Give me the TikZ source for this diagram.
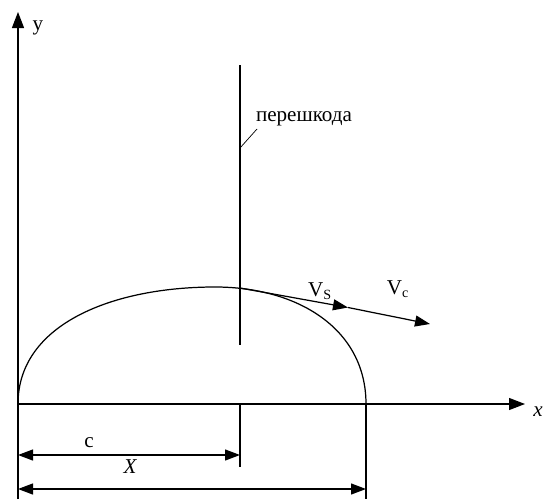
\documentclass[tikz,border=0pt]{standalone}
\usepackage{fontspec}
\setmainfont{Liberation Serif}
\usetikzlibrary{arrows.meta}
\tikzset{
  every picture/.style={line width=0.7pt, font=\fontsize{12}{14}\selectfont},
  axis/.style={-{Triangle[length=3.2mm, width=2.4mm]}},
  vel/.style={-{Triangle[length=3mm, width=2.2mm]}},
  dim/.style={{Triangle[length=3mm, width=2.2mm]}-{Triangle[length=3mm, width=2.2mm]}},
  lbl/.style={inner sep=1pt},
}

\begin{document}
\begin{tikzpicture}
  \useasboundingbox (-0.36,-1.9) rectangle (10.58,8.08);
  % axes
  \coordinate (O) at (0,0);
  \coordinate (ybot) at (0,-1.9);
  \coordinate (ytop) at (0,7.84);
  \coordinate (xend) at (10.14,0);
  \draw[axis] (ybot) -- (ytop);
  \draw[axis] (O) -- (xend);
  \node[lbl] (ylab) at (0.4,7.52) {y};
  \node[lbl] (xlab) at (10.4,-0.16) {\itshape x};
  % obstacle
  \coordinate (obtop) at (4.44,6.78);
  \coordinate (obbot) at (4.44,1.18);
  \draw (obtop) -- (obbot);
  \node[lbl] (oblab) at (5.72,5.7) {перешкода};
  \coordinate (ldA) at (4.44,5.12);
  \coordinate (ldB) at (4.78,5.5);
  \draw[line width=0.4pt] (ldA) -- (ldB);
  % trajectory
  \coordinate (top) at (3.94,2.34);
  \coordinate (land) at (6.96,0);
  \draw (O) .. controls (0,1.6) and (1.9,2.34) .. (top)
            .. controls (5.6,2.34) and (6.96,1.5) .. (land);
  % velocities
  \coordinate (hit) at (4.44,2.32);
  \coordinate (vs) at (6.6,1.93);
  \coordinate (vc) at (8.24,1.6);
  \draw[vel] (hit) -- (vs);
  \draw[vel] (vs) -- (vc);
  \node[lbl] (vslab) at (6.04,2.26) {V\textsubscript{S}};
  \node[lbl] (vclab) at (7.6,2.3) {V\textsubscript{c}};
  % dimensions
  \coordinate (cmark) at (4.44,-1.26);
  \coordinate (land2) at (6.96,-1.9);
  \draw (hit |- O) -- (cmark);
  \draw (land) -- (land2);
  \coordinate (cL) at (0,-1.02);
  \coordinate (cR) at (4.44,-1.02);
  \coordinate (XL) at (0,-1.7);
  \coordinate (XR) at (6.96,-1.7);
  \draw[dim] (cL) -- (cR);
  \draw[dim] (XL) -- (XR);
  \node[lbl] (clab) at (1.42,-0.78) {c};
  \node[lbl] (Xlab) at (2.24,-1.26) {\itshape X};
\end{tikzpicture}
\end{document}
